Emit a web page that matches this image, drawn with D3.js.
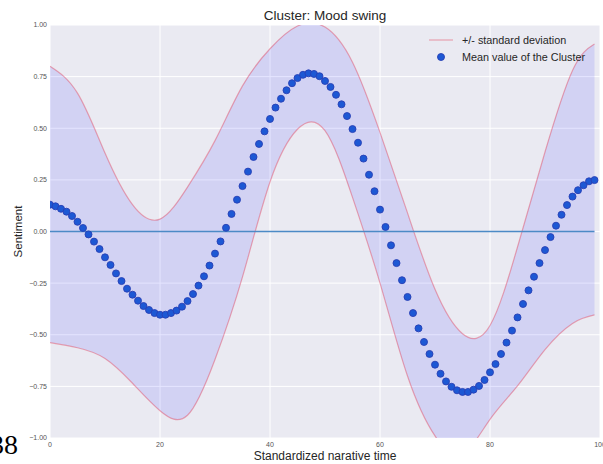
<!DOCTYPE html>
<html>
<head>
<meta charset="utf-8">
<script src="https://cdn.jsdelivr.net/npm/d3@7"></script>
<style>
  html, body { margin: 0; padding: 0; background: #fff; }
  svg { display: block; }
  text { font-family: "Liberation Sans", Arial, sans-serif; }
</style>
</head>
<body>
<svg id="chart" width="603" height="464"></svg>
<script>
// ---- data ----
const title = "Cluster: Mood swing";
const xLabel = "Standardized narative time";
const yLabel = "Sentiment";
const legendLabels = ["+/- standard deviation", "Mean value of the Cluster"];
const xTicks = [0, 20, 40, 60, 80, 100];
const yTicks = [-1.00, -0.75, -0.50, -0.25, 0.00, 0.25, 0.50, 0.75, 1.00];

// mean value of the cluster at narrative time 0..99
const meanValues = [
  0.130, 0.122, 0.110, 0.096, 0.075, 0.047, 0.017, -0.014, -0.049, -0.085,
  -0.125, -0.162, -0.203, -0.240, -0.277, -0.306, -0.335, -0.361, -0.380, -0.395,
  -0.403, -0.403, -0.395, -0.383, -0.364, -0.337, -0.303, -0.262, -0.217, -0.165,
  -0.107, -0.048, 0.018, 0.085, 0.154, 0.220, 0.290, 0.361, 0.424, 0.485,
  0.545, 0.600, 0.643, 0.684, 0.718, 0.743, 0.759, 0.766, 0.763, 0.752,
  0.729, 0.700, 0.662, 0.616, 0.559, 0.496, 0.430, 0.353, 0.275, 0.195,
  0.106, 0.022, -0.067, -0.153, -0.236, -0.317, -0.395, -0.469, -0.535, -0.593,
  -0.645, -0.689, -0.726, -0.752, -0.769, -0.777, -0.777, -0.766, -0.748, -0.719,
  -0.682, -0.642, -0.593, -0.538, -0.480, -0.416, -0.351, -0.285, -0.219, -0.153,
  -0.090, -0.027, 0.028, 0.081, 0.128, 0.169, 0.200, 0.224, 0.243, 0.249
];

// standard deviation band (upper / lower edge), read at these narrative times
const bandX     = [0, 5, 10, 15, 20, 25, 30, 35, 40, 45, 50, 55, 60, 65, 70, 75, 80, 85, 90, 95, 99];
const bandUpper = [0.800, 0.670, 0.380, 0.130, 0.060, 0.215, 0.440, 0.705, 0.885, 0.995, 0.990, 0.820, 0.480, 0.090, -0.280, -0.495, -0.455, -0.075, 0.385, 0.780, 0.908];
const bandLower = [-0.538, -0.563, -0.615, -0.735, -0.868, -0.890, -0.620, -0.220, 0.240, 0.495, 0.488, 0.165, -0.250, -0.700, -0.990, -1.075, -0.910, -0.748, -0.572, -0.445, -0.404];

// ---- layout ----
const svg = d3.select("#chart");
const M = { left: 50, right: 600, top: 25, bottom: 438 };

const x = d3.scaleLinear().domain([0, 100]).range([M.left, M.right]);
const y = d3.scaleLinear().domain([-1, 1]).range([M.bottom, M.top]);

// plot background
svg.append("rect")
  .attr("x", M.left).attr("y", M.top)
  .attr("width", M.right - M.left).attr("height", M.bottom - M.top)
  .attr("fill", "#EAEAF2");

svg.append("clipPath").attr("id", "clip")
  .append("rect")
  .attr("x", M.left).attr("y", M.top)
  .attr("width", M.right - M.left).attr("height", M.bottom - M.top);

// grid
const grid = svg.append("g");
grid.selectAll("line.gx").data(xTicks).enter().append("line")
  .attr("x1", d => x(d)).attr("x2", d => x(d))
  .attr("y1", M.top).attr("y2", M.bottom)
  .attr("stroke", "#fff").attr("stroke-width", 1);
grid.selectAll("line.gy").data(yTicks).enter().append("line")
  .attr("x1", M.left).attr("x2", M.right)
  .attr("y1", d => y(d)).attr("y2", d => y(d))
  .attr("stroke", "#fff").attr("stroke-width", 1);

const plot = svg.append("g").attr("clip-path", "url(#clip)");

// band
const bandData = bandX.map((t, i) => ({ t, hi: bandUpper[i], lo: bandLower[i] }));
const curve = d3.curveNatural;
plot.append("path")
  .datum(bandData)
  .attr("d", d3.area().x(d => x(d.t)).y0(d => y(d.lo)).y1(d => y(d.hi)).curve(curve))
  .attr("fill", "rgb(0,0,255)").attr("fill-opacity", 0.1);
["hi", "lo"].forEach(k => {
  plot.append("path")
    .datum(bandData)
    .attr("d", d3.line().x(d => x(d.t)).y(d => y(d[k])).curve(curve))
    .attr("fill", "none").attr("stroke", "#e0304a").attr("stroke-opacity", 0.4).attr("stroke-width", 1.2);
});

// zero line
plot.append("line")
  .attr("x1", x(0)).attr("x2", x(meanValues.length - 1))
  .attr("y1", y(0)).attr("y2", y(0))
  .attr("stroke", "#4C8AC6").attr("stroke-width", 1.6);

// mean dots
plot.selectAll("circle.m").data(meanValues).enter().append("circle")
  .attr("cx", (d, i) => x(i)).attr("cy", d => y(d))
  .attr("r", 3.5)
  .attr("fill", "#1d58d4").attr("stroke", "#2840b4").attr("stroke-width", 0.9);

// tick labels
svg.selectAll("text.yt").data(yTicks).enter().append("text")
  .attr("x", M.left - 3).attr("y", d => y(d)).attr("dy", "0.35em")
  .attr("text-anchor", "end").attr("font-size", 7).attr("fill", "#555")
  .text(d => d3.format(".2f")(d));
svg.selectAll("text.xt").data(xTicks).enter().append("text")
  .attr("x", d => x(d)).attr("y", M.bottom + 9)
  .attr("text-anchor", "middle").attr("font-size", 7).attr("fill", "#555")
  .text(d => d);

// title & axis labels
svg.append("text").attr("x", (M.left + M.right) / 2).attr("y", 20)
  .attr("text-anchor", "middle").attr("font-size", 13.5).attr("fill", "#262626").text(title);
svg.append("text").attr("x", (M.left + M.right) / 2).attr("y", 460)
  .attr("text-anchor", "middle").attr("font-size", 12).attr("fill", "#262626").text(xLabel);
svg.append("text").attr("transform", `translate(22,${(M.top + M.bottom) / 2}) rotate(-90)`)
  .attr("text-anchor", "middle").attr("font-size", 11.5).attr("fill", "#262626").text(yLabel);

// legend
const lg = svg.append("g");
lg.append("line").attr("x1", 429).attr("x2", 453).attr("y1", 40).attr("y2", 40)
  .attr("stroke", "#e0304a").attr("stroke-opacity", 0.4).attr("stroke-width", 1.2);
lg.append("text").attr("x", 462).attr("y", 40).attr("dy", "0.35em")
  .attr("font-size", 10.8).attr("fill", "#262626").text(legendLabels[0]);
lg.append("circle").attr("cx", 441).attr("cy", 57).attr("r", 3.5)
  .attr("fill", "#1d58d4").attr("stroke", "#2840b4").attr("stroke-width", 0.9);
lg.append("text").attr("x", 462).attr("y", 57).attr("dy", "0.35em")
  .attr("font-size", 10.8).attr("fill", "#262626").text(legendLabels[1]);

// stray page number at bottom-left
svg.append("text").attr("x", 18).attr("y", 454)
  .attr("text-anchor", "end")
  .style("font-family", "'Liberation Serif', 'Times New Roman', serif")
  .attr("font-size", 28).attr("fill", "#000").text("38");
</script>
</body>
</html>
